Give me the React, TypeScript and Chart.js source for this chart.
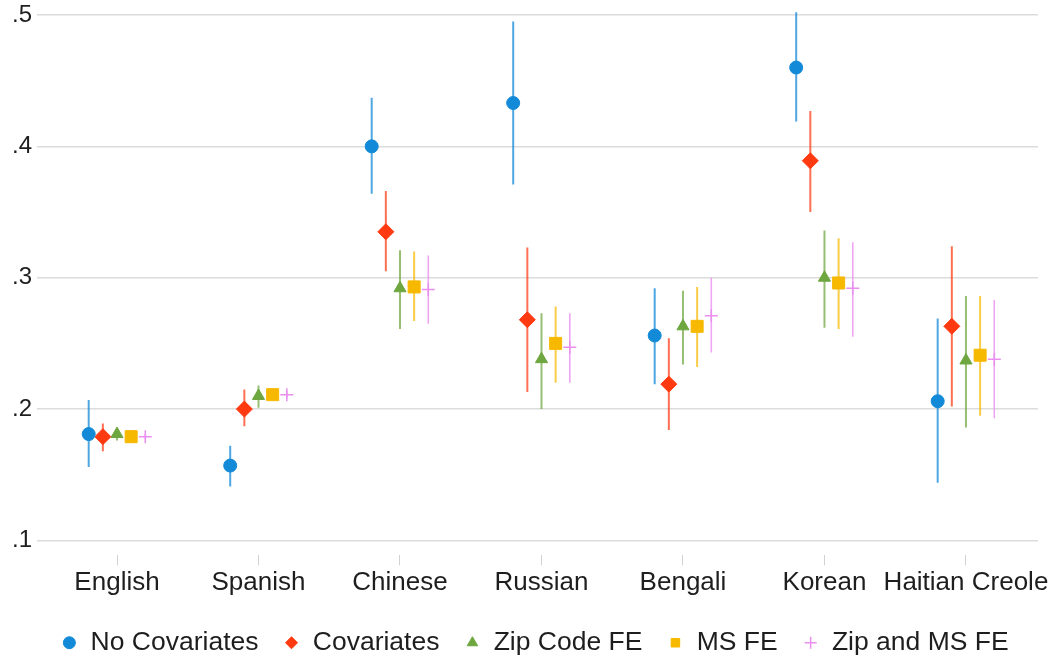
import React, { useEffect, useRef } from 'react';
import { Chart, registerables } from 'chart.js';

Chart.register(...registerables);

// ---------- data ----------
const categories = ['English', 'Spanish', 'Chinese', 'Russian', 'Bengali', 'Korean', 'Haitian Creole'];
const seriesNames = ['No Covariates', 'Covariates', 'Zip Code FE', 'MS FE', 'Zip and MS FE'];

const noCovEst = [0.181, 0.157, 0.400, 0.433, 0.256, 0.460, 0.206];
const noCovLo = [0.156, 0.141, 0.364, 0.371, 0.219, 0.419, 0.144];
const noCovHi = [0.207, 0.172, 0.437, 0.495, 0.292, 0.502, 0.269];

const covEst = [0.179, 0.200, 0.335, 0.268, 0.219, 0.389, 0.263];
const covLo = [0.168, 0.187, 0.305, 0.213, 0.184, 0.350, 0.202];
const covHi = [0.189, 0.215, 0.366, 0.323, 0.254, 0.427, 0.324];

const zipEst = [0.181, 0.210, 0.292, 0.238, 0.263, 0.300, 0.237];
const zipLo = [0.176, 0.201, 0.261, 0.200, 0.234, 0.262, 0.186];
const zipHi = [0.185, 0.218, 0.321, 0.273, 0.290, 0.336, 0.286];

const msEst = [0.179, 0.211, 0.293, 0.250, 0.263, 0.296, 0.241];
const msLo = [0.176, 0.207, 0.267, 0.220, 0.232, 0.261, 0.195];
const msHi = [0.182, 0.215, 0.320, 0.278, 0.293, 0.330, 0.286];

const zipMsEst = [0.179, 0.211, 0.291, 0.247, 0.271, 0.292, 0.238];
const zipMsLo = [0.177, 0.208, 0.265, 0.220, 0.243, 0.255, 0.193];
const zipMsHi = [0.181, 0.214, 0.317, 0.273, 0.300, 0.327, 0.283];

const yTickValues = [0.1, 0.2, 0.3, 0.4, 0.5];
const yTickLabels = ['.1', '.2', '.3', '.4', '.5'];

// ---------- style ----------
const FONT = "'Liberation Sans', Arial, Helvetica, sans-serif";
const TEXT = '#1e1e1e';
const seriesOffsets = [-0.2, -0.1, 0, 0.1, 0.2];
const seriesStyles = [
  { color: '#138ad8', ci: 'rgba(19,138,216,0.75)', pointStyle: 'circle', radius: 6.5, bw: 1, ciw: 2 },
  { color: '#ff3910', ci: 'rgba(255,57,16,0.72)', pointStyle: 'rectRot', radius: 8, bw: 1, ciw: 2 },
  { color: '#6ea63f', ci: 'rgba(110,166,63,0.72)', pointStyle: 'triangle', radius: 7, bw: 1, ciw: 2 },
  { color: '#f7b800', ci: 'rgba(247,184,0,0.72)', pointStyle: 'rect', radius: 8.5, bw: 1, ciw: 2 },
  { color: '#ea8ff0', ci: 'rgba(234,143,240,0.8)', pointStyle: 'cross', radius: 6.5, bw: 1.5, ciw: 1.6 },
];

const estimates = [noCovEst, covEst, zipEst, msEst, zipMsEst];
const lows = [noCovLo, covLo, zipLo, msLo, zipMsLo];
const highs = [noCovHi, covHi, zipHi, msHi, zipMsHi];

const legendShift = {
  id: 'legendShift',
  afterLayout(chart: any) {
    const l = chart.legend;
    if (!l) return;
    l.left += 16;
    l.right += 16;
    l.top += 2;
    l.bottom += 2;
  },
};

export default function App() {
  const ref = useRef<HTMLCanvasElement | null>(null);

  useEffect(() => {
    document.body.style.margin = '0';
    const canvas = ref.current;
    if (!canvas) return;

    const markerSets: any[] = seriesNames.map((name, s) => {
      const st = seriesStyles[s];
      return {
        type: 'scatter',
        label: name,
        order: 1,
        clip: false,
        data: categories.map((_, i) => ({ x: i + 1 + seriesOffsets[s], y: estimates[s][i] })),
        pointStyle: st.pointStyle,
        pointRadius: st.radius,
        pointHoverRadius: st.radius,
        backgroundColor: st.color,
        borderColor: st.color,
        pointBorderWidth: st.bw,
        borderWidth: st.bw,
        showLine: false,
      };
    });

    const ciSets: any[] = seriesNames.map((name, s) => {
      const st = seriesStyles[s];
      const pts: any[] = [];
      categories.forEach((_, i) => {
        const x = i + 1 + seriesOffsets[s];
        pts.push({ x, y: lows[s][i] });
        pts.push({ x, y: highs[s][i] });
        pts.push({ x, y: null });
      });
      return {
        type: 'line',
        label: name + ' CI',
        order: 2,
        clip: false,
        data: pts,
        showLine: true,
        spanGaps: false,
        pointRadius: 0,
        pointHoverRadius: 0,
        borderColor: st.ci,
        backgroundColor: st.ci,
        borderWidth: st.ciw,
        borderCapStyle: 'butt',
        fill: false,
      };
    });

    const chart = new Chart(canvas, {
      type: 'scatter',
      data: { datasets: [...markerSets, ...ciSets] },
      plugins: [legendShift],
      options: {
        responsive: false,
        animation: false,
        devicePixelRatio: 1,
        layout: { autoPadding: false, padding: { left: 0, right: 22, top: 5, bottom: 0 } },
        scales: {
          x: {
            type: 'linear',
            min: 0.4346,
            max: 7.509,
            afterBuildTicks: (s: any) => {
              s.ticks = categories.map((_, i) => ({ value: i + 1 }));
            },
            afterFit: (s: any) => {
              s.height += 2;
            },
            grid: { drawOnChartArea: false, drawTicks: true, tickLength: 10, color: '#d2d2d2', lineWidth: 1 },
            border: { display: false },
            ticks: {
              padding: 2,
              autoSkip: false,
              maxRotation: 0,
              minRotation: 0,
              color: TEXT,
              font: { size: 26, family: FONT },
              callback: (v: any) => categories[Math.round(Number(v)) - 1] ?? '',
            },
          },
          y: {
            type: 'linear',
            min: 0.0887,
            max: 0.5076,
            afterBuildTicks: (s: any) => {
              s.ticks = yTickValues.map((v) => ({ value: v }));
            },
            afterFit: (s: any) => {
              s.width = 37;
              s.paddingTop = 0;
              s.paddingBottom = 0;
            },
            grid: { color: '#dcdcdc', lineWidth: 1.5, drawTicks: false },
            border: { display: false },
            ticks: {
              padding: 5,
              color: TEXT,
              font: { size: 24, family: FONT },
              callback: (v: any) => {
                const idx = yTickValues.findIndex((t) => Math.abs(t - Number(v)) < 1e-6);
                return idx >= 0 ? yTickLabels[idx] : '';
              },
            },
          },
        },
        plugins: {
          tooltip: { enabled: false },
          legend: {
            position: 'bottom',
            labels: {
              usePointStyle: true,
              boxWidth: 16,
              boxHeight: 8.5,
              padding: 25,
              color: TEXT,
              font: { size: 26.5, family: FONT },
              filter: (item: any) => item.datasetIndex < seriesNames.length,
            },
          },
        },
      } as any,
    });

    return () => chart.destroy();
  }, []);

  return (
    <div style={{ width: 1060, height: 664, background: '#fff' }}>
      <canvas ref={ref} width={1060} height={664} style={{ display: 'block' }} />
    </div>
  );
}
